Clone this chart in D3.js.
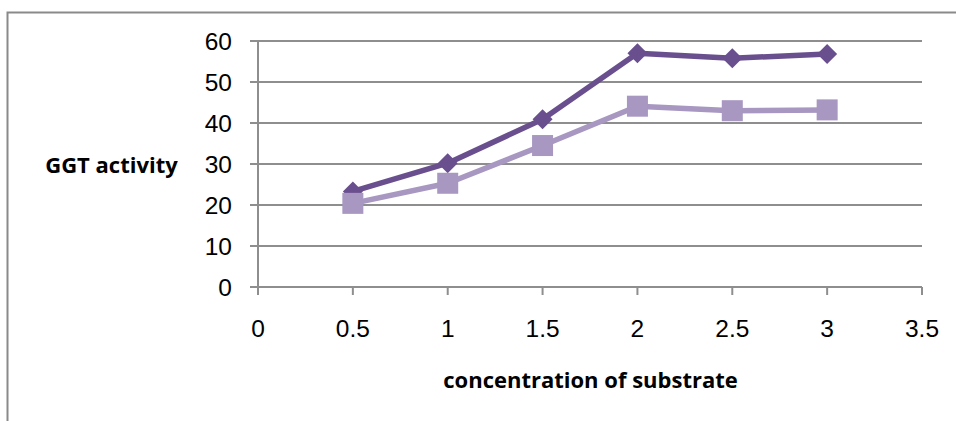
<!DOCTYPE html>
<html><head><meta charset="utf-8">
<script src="https://cdn.jsdelivr.net/npm/d3@7"></script>
<style>body{margin:0;background:#fff}svg{display:block}</style>
</head><body>
<script>
const concentrations = [0.5, 1, 1.5, 2, 2.5, 3];
const seriesDark = [23.3, 30.2, 40.9, 57.0, 55.8, 56.8];
const seriesLight = [20.4, 25.3, 34.5, 44.1, 43.0, 43.2];
const xTicks = [0, 0.5, 1, 1.5, 2, 2.5, 3, 3.5];
const yTicks = [0, 10, 20, 30, 40, 50, 60];
const xTitle = "concentration of substrate";
const yTitle = "GGT activity";

const W = 956, H = 421;
const svg = d3.select("body").append("svg").attr("width", W).attr("height", H);

// outer frame
svg.append("rect").attr("x", 7.5).attr("y", 12.5).attr("width", 1100).attr("height", 1000)
  .attr("fill", "none").attr("stroke", "#8a8a8a").attr("stroke-width", 2);

const x = d3.scaleLinear().domain([0, 3.5]).range([258, 922]);
const y = d3.scaleLinear().domain([0, 60]).range([287, 41]);

// gridlines
svg.append("g").selectAll("line").data(yTicks).join("line")
  .attr("x1", 250).attr("x2", 922)
  .attr("y1", d => y(d)).attr("y2", d => y(d))
  .attr("stroke", "#8e8e8e").attr("stroke-width", 2);

// y axis line
svg.append("line").attr("x1", 258).attr("x2", 258).attr("y1", y(60)).attr("y2", y(0) + 8)
  .attr("stroke", "#8e8e8e").attr("stroke-width", 2);

// x ticks
svg.append("g").selectAll("line").data(xTicks).join("line")
  .attr("x1", d => x(d)).attr("x2", d => x(d))
  .attr("y1", y(0)).attr("y2", y(0) + 8)
  .attr("stroke", "#8e8e8e").attr("stroke-width", 2);

const font = "'Liberation Sans', Arial, sans-serif";
svg.append("g").selectAll("text").data(yTicks).join("text")
  .attr("x", 232).attr("y", d => y(d)).attr("dy", "0.35em")
  .attr("text-anchor", "end").attr("font-family", font).attr("font-size", 24.5)
  .attr("fill", "#000").text(d => d);

svg.append("g").selectAll("text").data(xTicks).join("text")
  .attr("x", d => x(d)).attr("y", 328).attr("dy", "0.35em")
  .attr("text-anchor", "middle").attr("font-family", font).attr("font-size", 24.5)
  .attr("fill", "#000").text(d => d);

const tfont = "'Open Sans', Lato, sans-serif";
svg.append("text").attr("x", 111.5).attr("y", 173)
  .attr("text-anchor", "middle").attr("font-family", tfont).attr("font-weight", "bold")
  .attr("font-size", 22).attr("letter-spacing", 0).text(yTitle);
svg.append("text").attr("x", 590.5).attr("y", 388)
  .attr("text-anchor", "middle").attr("font-family", tfont).attr("font-weight", "bold")
  .attr("font-size", 22).attr("letter-spacing", 0).text(xTitle);

const line = d3.line().x(d => x(d[0])).y(d => y(d[1]));
const dark = "#6a4f8e", light = "#a797c1";

const dDark = concentrations.map((c, i) => [c, seriesDark[i]]);
const dLight = concentrations.map((c, i) => [c, seriesLight[i]]);

svg.append("path").datum(dDark).attr("d", line).attr("fill", "none")
  .attr("stroke", dark).attr("stroke-width", 5.5).attr("stroke-linejoin", "round");
svg.append("g").selectAll("path").data(dDark).join("path")
  .attr("d", d3.symbol(d3.symbolDiamond2, 255)())
  .attr("transform", d => `translate(${x(d[0])},${y(d[1])})`)
  .attr("fill", dark);

svg.append("path").datum(dLight).attr("d", line).attr("fill", "none")
  .attr("stroke", light).attr("stroke-width", 5.5).attr("stroke-linejoin", "round");
svg.append("g").selectAll("rect").data(dLight).join("rect")
  .attr("x", d => x(d[0]) - 10.5).attr("y", d => y(d[1]) - 10.5)
  .attr("width", 21).attr("height", 21).attr("fill", light);
</script>
</body></html>
